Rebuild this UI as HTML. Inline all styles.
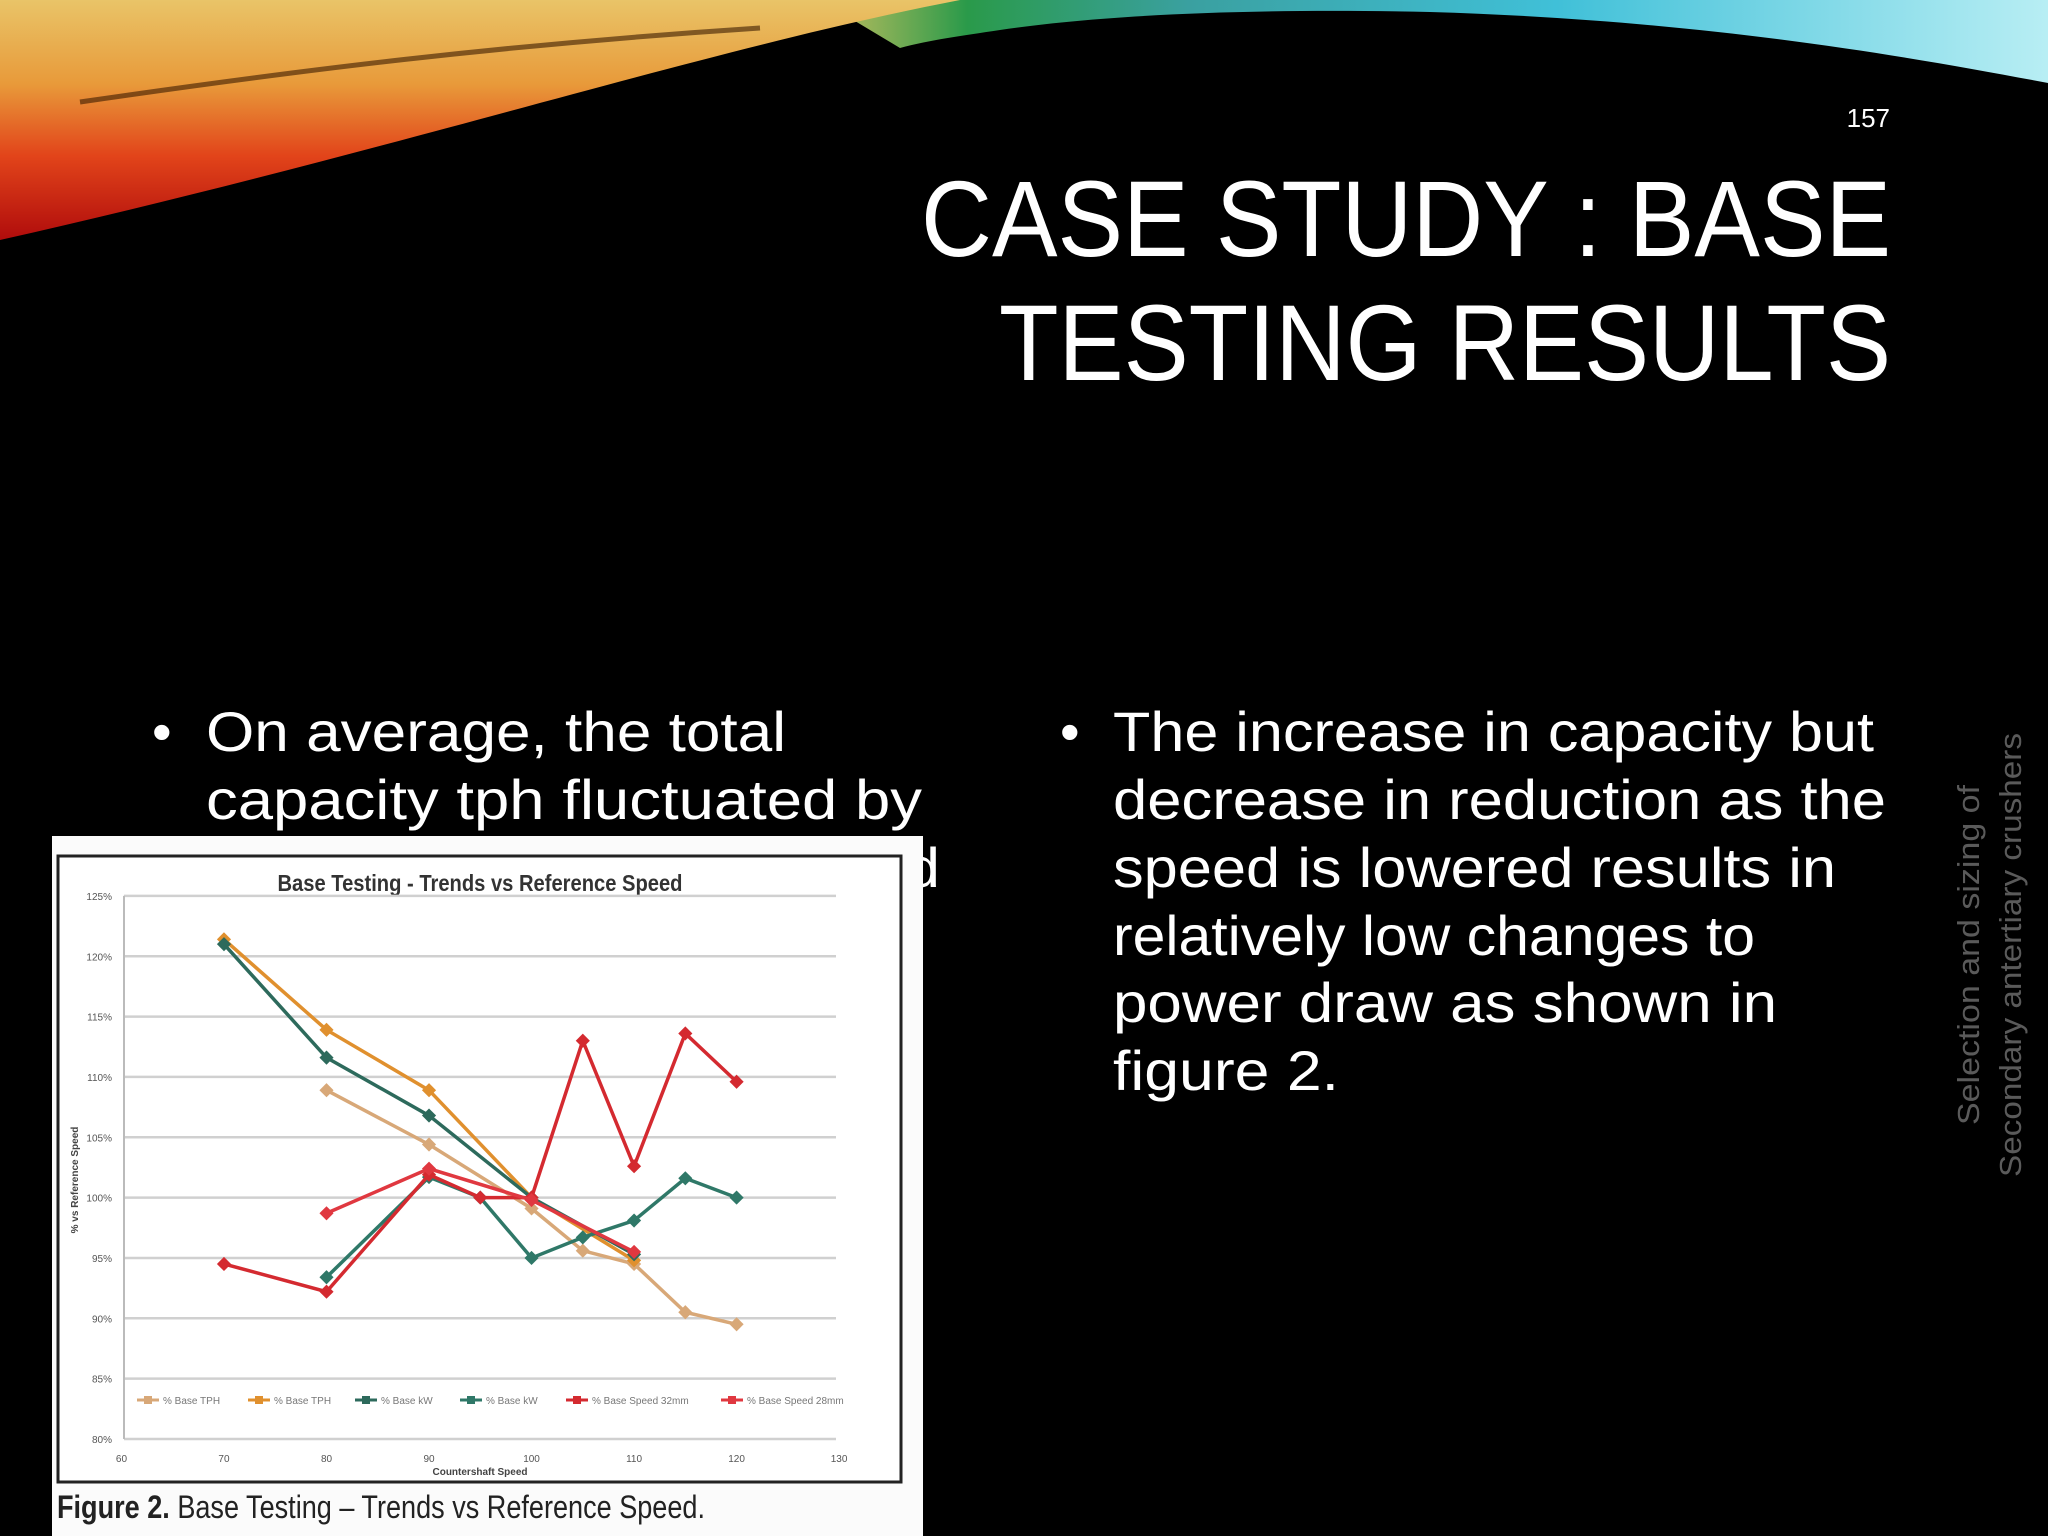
<!DOCTYPE html>
<html><head><meta charset="utf-8">
<style>
html,body{margin:0;padding:0;background:#000;}
#slide{position:relative;width:2048px;height:1536px;background:#000;overflow:hidden;font-family:"Liberation Sans",sans-serif;}
svg{position:absolute;left:0;top:0;}
</style></head>
<body>
<div id="slide">
<svg width="2048" height="1536" viewBox="0 0 2048 1536">
  <defs>
    <linearGradient id="gl" x1="0" y1="0" x2="0" y2="240" gradientUnits="userSpaceOnUse">
      <stop offset="0" stop-color="#e9c468"/>
      <stop offset="0.35" stop-color="#e89a3a"/>
      <stop offset="0.65" stop-color="#e2441a"/>
      <stop offset="1" stop-color="#b00c0c"/>
    </linearGradient>
    <linearGradient id="gr" x1="820" y1="0" x2="2048" y2="0" gradientUnits="userSpaceOnUse">
      <stop offset="0" stop-color="#c9c060"/>
      <stop offset="0.12" stop-color="#2a9a4a"/>
      <stop offset="0.3" stop-color="#3aa0a0"/>
      <stop offset="0.6" stop-color="#40c0d8"/>
      <stop offset="1" stop-color="#b8eef4"/>
    </linearGradient>
  </defs>
  <g>
    <path d="M820,0 L2048,0 L2048,83 C1900,55 1700,20 1430,12 C1250,8 1100,15 1000,30 C960,36 930,40 900,48 Z" fill="url(#gr)"/>
    <path d="M0,0 L960,0 C700,50 400,150 0,240 Z" fill="url(#gl)"/>
    <path d="M80,102 C300,70 500,45 760,28" stroke="#3a1a00" stroke-width="5" fill="none" opacity="0.6"/>
  </g>
  <text x="1890" y="127" font-size="26" fill="#fff" text-anchor="end">157</text>
  <text x="1891" y="256" font-size="108" fill="#fff" text-anchor="end" textLength="970" lengthAdjust="spacingAndGlyphs">CASE STUDY : BASE</text>
  <text x="1891" y="380" font-size="108" fill="#fff" text-anchor="end" textLength="892" lengthAdjust="spacingAndGlyphs">TESTING RESULTS</text>

  <g fill="#fff" font-size="56">
    <text x="152" y="751">•</text>
    <text x="206" y="751" textLength="580" lengthAdjust="spacingAndGlyphs">On average, the total</text>
    <text x="206" y="819" textLength="716" lengthAdjust="spacingAndGlyphs">capacity tph fluctuated by</text>
    <text x="206" y="887" textLength="734" lengthAdjust="spacingAndGlyphs">approximately 10% around</text>
  </g>
  <g fill="#fff" font-size="56">
    <text x="1060" y="751">•</text>
    <text x="1113" y="751" textLength="761" lengthAdjust="spacingAndGlyphs">The increase in capacity but</text>
    <text x="1113" y="819" textLength="773" lengthAdjust="spacingAndGlyphs">decrease in reduction as the</text>
    <text x="1113" y="887" textLength="723" lengthAdjust="spacingAndGlyphs">speed is lowered results in</text>
    <text x="1113" y="955" textLength="642" lengthAdjust="spacingAndGlyphs">relatively low changes to</text>
    <text x="1113" y="1022" textLength="664" lengthAdjust="spacingAndGlyphs">power draw as shown in</text>
    <text x="1113" y="1090" textLength="226" lengthAdjust="spacingAndGlyphs">figure 2.</text>
  </g>
  <g fill="#5a5a5a" font-size="31">
    <text transform="translate(1979,955) rotate(-90)" text-anchor="middle" textLength="340" lengthAdjust="spacingAndGlyphs">Selection and sizing of</text>
    <text transform="translate(2021,955) rotate(-90)" text-anchor="middle" textLength="444" lengthAdjust="spacingAndGlyphs">Secondary antertiary crushers</text>
  </g>

  <g id="chart">
    <rect x="52" y="836" width="871" height="700" fill="#fbfbfb"/>
    <rect x="58" y="856" width="843" height="626" fill="#fff" stroke="#222" stroke-width="3"/>
    <text x="480" y="891" font-size="23" font-weight="bold" fill="#333" text-anchor="middle" textLength="405" lengthAdjust="spacingAndGlyphs">Base Testing - Trends vs Reference Speed</text>
    <g id="grid"></g>
    <g id="series"></g>
    <g id="legend"></g>
    <text transform="translate(78,1180) rotate(-90)" font-size="10" font-weight="bold" fill="#444" text-anchor="middle">% vs Reference Speed</text>
    <text x="480" y="1475" font-size="10" font-weight="bold" fill="#444" text-anchor="middle">Countershaft Speed</text>
    <text x="57" y="1518" font-size="32" fill="#222" textLength="648" lengthAdjust="spacingAndGlyphs"><tspan font-weight="bold">Figure 2.</tspan> Base Testing – Trends vs Reference Speed.</text>
  </g>
</svg>
</div>
<script>
const yTicks = [125,120,115,110,105,100,95,90,85,80];
const xTicks = [60,70,80,90,100,110,120,130];
const seriesNames = ["% Base TPH","% Base TPH","% Base kW","% Base kW","% Base Speed 32mm","% Base Speed 28mm"];
const s1x = [80,90,100,105,110,115,120];
const s1y = [108.9,104.4,99.1,95.6,94.5,90.5,89.5];
const s2x = [70,80,90,100,110];
const s2y = [121.4,113.9,108.9,100,94.8];
const s3x = [70,80,90,100,110];
const s3y = [121,111.6,106.8,100,95.3];
const s4x = [80,90,95,100,105,110,115,120];
const s4y = [93.4,101.7,100,95,96.7,98.1,101.6,100];
const s5x = [70,80,90,95,100,105,110,115,120];
const s5y = [94.5,92.2,101.9,100,100,113,102.6,113.6,109.6];
const s6x = [80,90,100,110];
const s6y = [98.7,102.4,99.8,95.5];

const K = 1.306;
function xs(v){ return (93 + (v-60)*7.85)*K; }
function ys(v){ return (917 - (v-100)*9.24)*K; }
const NS = "http://www.w3.org/2000/svg";
function mk(tag, attrs){ const e=document.createElementNS(NS,tag); for(const k in attrs) e.setAttribute(k,attrs[k]); return e; }

const grid = document.getElementById('grid');
yTicks.forEach(v=>{
  const l = mk('line',{x1:124,x2:836,y1:ys(v),y2:ys(v),stroke:'#d0d0d0','stroke-width':2.5});
  
  
  grid.appendChild(l);
  const t = mk('text',{x:112,y:ys(v)+4,'font-size':10,fill:'#555','text-anchor':'end'});
  
  
  t.textContent = v+'%';
  grid.appendChild(t);
});
const ax = mk('line',{x1:124,x2:124,y1:ys(125),y2:ys(80),stroke:'#bbb','stroke-width':2});


grid.appendChild(ax);
xTicks.forEach(v=>{
  const t = mk('text',{x:xs(v),y:1462,'font-size':10,fill:'#555','text-anchor':'middle'});
  
  
  t.textContent = v;
  grid.appendChild(t);
});

const colors = ['#d8a878','#e0902e','#2d6a5c','#2f7868','#d42a30','#e03840'];
const data = [[s1x,s1y],[s2x,s2y],[s3x,s3y],[s4x,s4y],[s5x,s5y],[s6x,s6y]];
const sg = document.getElementById('series');
data.forEach((d,i)=>{
  const g = mk('g',{});
  
  
  const pts = d[0].map((x,j)=>xs(x)+','+ys(d[1][j])).join(' ');
  const pl = mk('polyline',{points:pts,fill:'none',stroke:colors[i],'stroke-width':3.5});
  
  
  g.appendChild(pl);
  d[0].forEach((x,j)=>{
    const c = mk('rect',{x:xs(x)-5,y:ys(d[1][j])-5,width:10,height:10,fill:colors[i],transform:'rotate(45 '+xs(x)+' '+ys(d[1][j])+')'});
    
    
    g.appendChild(c);
  });
  sg.appendChild(g);
});

const lg = document.getElementById('legend');
const lx = [137,248,355,460,566,721];
seriesNames.forEach((n,i)=>{
  const g = mk('g',{});
  
  
  g.appendChild(mk('line',{x1:lx[i],x2:lx[i]+22,y1:1400,y2:1400,stroke:colors[i],'stroke-width':3}));
  g.appendChild(mk('rect',{x:lx[i]+7,y:1396,width:8,height:8,fill:colors[i]}));
  const t = mk('text',{x:lx[i]+26,y:1404,'font-size':10,fill:'#777'});
  t.textContent = n;
  g.appendChild(t);
  lg.appendChild(g);
});
</script>
</body></html>
